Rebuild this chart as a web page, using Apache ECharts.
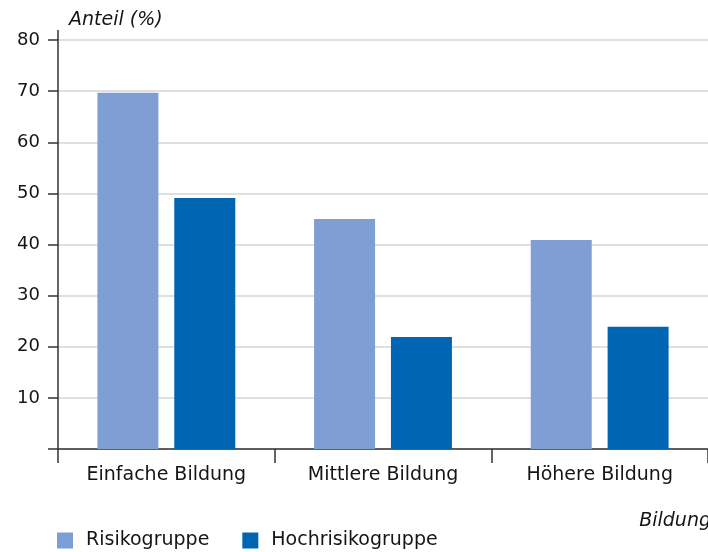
<!DOCTYPE html>
<html><head><meta charset="utf-8">
<script src="https://cdn.jsdelivr.net/npm/echarts@6/dist/echarts.min.js"></script>
<style>html,body{margin:0;padding:0;background:#fff}#c{width:708px;height:552px}</style>
</head><body><div id="c"></div>
<script>
const categories = ['Einfache Bildung', 'Mittlere Bildung', 'Höhere Bildung'];
const seriesNames = ['Risikogruppe', 'Hochrisikogruppe'];
const risiko = [69.7, 45.0, 40.9];
const hochrisiko = [49.1, 21.9, 23.9];
const yTicks = [0, 10, 20, 30, 40, 50, 60, 70, 80];
const colors = ['#7f9fd4', '#0066b3'];
const FONT = '"DejaVu Sans", sans-serif';
const TXT = '#151515';

const chart = echarts.init(document.getElementById('c'), null, {renderer: 'canvas'});
chart.setOption({
  animation: false,
  textStyle: {fontFamily: FONT},
  grid: {left: 58, top: 40, width: 653, bottom: 103, containLabel: false},
  legend: {
    left: 57, top: 531, padding: 0, itemWidth: 16, itemHeight: 16, itemGap: 33,
    icon: 'rect',
    textStyle: {fontFamily: FONT, fontSize: 19, color: TXT, padding: [0, 0, 0, 8]},
    data: seriesNames
  },
  xAxis: {
    type: 'category', data: categories,
    axisLine: {lineStyle: {color: '#333', width: 1.5}},
    axisTick: {show: true, length: 14, lineStyle: {color: '#333', width: 1.5}},
    axisLabel: {fontFamily: FONT, fontSize: 19, color: TXT, margin: 17}
  },
  yAxis: {
    type: 'value', min: yTicks[0], max: yTicks[yTicks.length - 1], interval: 10,
    axisLine: {show: true, lineStyle: {color: '#333', width: 1.5}},
    axisTick: {show: true, length: 10, lineStyle: {color: '#333', width: 1.5}},
    axisLabel: {fontFamily: FONT, fontSize: 18, color: TXT, margin: 18,
      formatter: v => (v === 0 ? '' : String(v))},
    splitLine: {show: true, lineStyle: {color: '#d6d6d6', width: 1.5}}
  },
  series: [
    {name: seriesNames[0], type: 'bar', data: risiko, barWidth: 61, barGap: '26%',
     itemStyle: {color: colors[0]}},
    {name: seriesNames[1], type: 'bar', data: hochrisiko, barWidth: 61,
     itemStyle: {color: colors[1]}}
  ]
});
const yTopPx = chart.convertToPixel({yAxisIndex: 0}, yTicks[yTicks.length - 1]);
chart.setOption({
  graphic: [
    {type: 'line', shape: {x1: 58, y1: yTopPx - 10, x2: 58, y2: yTopPx}, style: {stroke: '#333', lineWidth: 1.5}},
    {type: 'text', left: 69, top: 11, style: {text: 'Anteil (%)', fontFamily: FONT, fontStyle: 'italic', fontSize: 19, fill: TXT}},
    {type: 'text', right: -3, top: 512, style: {text: 'Bildung', fontFamily: FONT, fontStyle: 'italic', fontSize: 19, fill: TXT}}
  ]
});
</script></body></html>
